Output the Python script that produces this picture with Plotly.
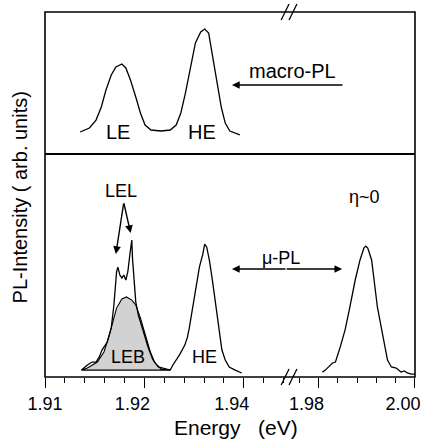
import plotly.graph_objects as go

# ---------------- data ----------------
# macro-PL (top panel), energies in eV, intensity in arb. units
macro_E = [1.9153, 1.9167, 1.9177, 1.9185, 1.9192, 1.9200, 1.9207, 1.9216, 1.9222, 1.9229,
           1.9237, 1.9244, 1.9251, 1.9260, 1.9275, 1.9289, 1.9298, 1.9305, 1.9312, 1.9320,
           1.9327, 1.9335, 1.9341, 1.9347, 1.9352, 1.9360, 1.9366, 1.9372, 1.9379, 1.9394]
macro_I = [0.155, 0.183, 0.239, 0.331, 0.451, 0.556, 0.613, 0.634, 0.606, 0.521,
           0.401, 0.289, 0.204, 0.169, 0.162, 0.169, 0.204, 0.289, 0.430, 0.613,
           0.782, 0.859, 0.880, 0.852, 0.711, 0.500, 0.331, 0.218, 0.162, 0.134]

# micro-PL, low-energy part (LEL lines + LEB + HE)
mu_E = [1.9155, 1.9164, 1.9171, 1.9177, 1.9182, 1.9186, 1.9194, 1.9200, 1.9204, 1.9207,
        1.9208, 1.9210, 1.9213, 1.9216, 1.9219, 1.9222, 1.9225, 1.9228, 1.9231, 1.9232,
        1.9235, 1.9237, 1.9241, 1.9249, 1.9256, 1.9263, 1.9271, 1.9278, 1.9289, 1.9293,
        1.9303, 1.9311, 1.9315, 1.9318, 1.9323, 1.9327, 1.9333, 1.9338, 1.9341, 1.9344,
        1.9348, 1.9352, 1.9357, 1.9363, 1.9367, 1.9372, 1.9378, 1.9387, 1.9397]
mu_I = [0.031, 0.054, 0.067, 0.067, 0.090, 0.121, 0.157, 0.220, 0.323, 0.413,
        0.471, 0.493, 0.457, 0.444, 0.457, 0.435, 0.471, 0.547, 0.614, 0.534,
        0.413, 0.336, 0.277, 0.202, 0.130, 0.076, 0.045, 0.040, 0.031, 0.054,
        0.099, 0.143, 0.179, 0.224, 0.314, 0.404, 0.493, 0.549, 0.596, 0.583,
        0.525, 0.448, 0.332, 0.211, 0.121, 0.076, 0.045, 0.031, 0.018]

# LEB (shaded Gaussian component)
leb_E = [1.9155, 1.9164, 1.9179, 1.9189, 1.9197, 1.9201, 1.9208, 1.9216, 1.9223, 1.9231,
         1.9237, 1.9244, 1.9251, 1.9259, 1.9266, 1.9275, 1.9289]
leb_I = [0.031, 0.040, 0.067, 0.112, 0.188, 0.233, 0.309, 0.350, 0.359, 0.345,
         0.323, 0.265, 0.188, 0.112, 0.063, 0.036, 0.031]

# micro-PL, high-energy peak (right of axis break)
hi_E = [1.9808, 1.9814, 1.9829, 1.9835, 1.9845, 1.9855, 1.9865, 1.9876, 1.9886, 1.9894,
        1.9898, 1.9902, 1.9910, 1.9916, 1.9922, 1.9931, 1.9937, 1.9943, 1.9951, 1.9961,
        1.9971, 1.9978, 1.9984, 1.9992, 2.0000]
hi_I = [0.022, 0.031, 0.063, 0.067, 0.135, 0.211, 0.314, 0.435, 0.525, 0.578,
        0.587, 0.578, 0.525, 0.422, 0.314, 0.211, 0.135, 0.076, 0.045, 0.040,
        0.022, 0.027, 0.018, 0.013, 0.013]

left_ticks = [1.91, 1.925, 1.94]
left_ticktext = ["", "1.92", "1.94"]
right_ticks = [1.98, 2.00]
right_ticktext = ["1.98", "2.00"]

# ---------------- geometry ----------------
W, H = 428, 447
L, R, T, B = 45, 421, 12, 377
PW, PH = R - L, B - T
split_px = 294
div_px = 154
xs = (split_px - L) / PW
yd = (B - div_px) / PH


def px(x):
    return (x - L) / PW


def py(y):
    return (B - y) / PH


FONT = "Liberation Sans, Arial, sans-serif"
fig = go.Figure()

line = dict(color="black", width=1.3)
fig.add_trace(go.Scatter(x=macro_E, y=macro_I, xaxis="x2", yaxis="y2", mode="lines",
                         line=line, hoverinfo="skip"))
fig.add_trace(go.Scatter(x=leb_E + [leb_E[0]], y=leb_I + [leb_I[0]], xaxis="x", yaxis="y",
                         mode="lines", fill="toself", fillcolor="#d2d2d2",
                         line=dict(color="black", width=1.1), hoverinfo="skip"))
fig.add_trace(go.Scatter(x=mu_E, y=mu_I, xaxis="x", yaxis="y", mode="lines",
                         line=line, hoverinfo="skip"))
fig.add_trace(go.Scatter(x=hi_E, y=hi_I, xaxis="x3", yaxis="y", mode="lines",
                         line=line, hoverinfo="skip"))

left_range = [1.91, 1.91 + 0.03 * (split_px - L) / (247 - L)]
right_range = [1.98 - 0.02 * (323 - split_px) / (421 - 323), 2.00]

# empty trace so that the overlaying label axis is drawn
fig.add_trace(go.Scatter(x=left_range, y=[None, None], xaxis="x4", yaxis="y",
                         mode="lines", hoverinfo="skip", showlegend=False))

tickfont = dict(family=FONT, size=18, color="black")
fig.update_layout(
    width=W, height=H, margin=dict(l=L, r=W - R, t=T, b=H - B),
    paper_bgcolor="white", plot_bgcolor="white", showlegend=False,
    xaxis=dict(domain=[0, xs], range=left_range, anchor="y", showgrid=False, zeroline=False,
               showline=False, tickmode="array", tickvals=left_ticks, ticktext=left_ticktext,
               ticks="outside", ticklen=10, tickwidth=1.3, tickcolor="black",
               ticklabelshift=-12, tickfont=tickfont,
               minor=dict(dtick=0.003, tick0=1.91, ticks="outside", ticklen=5,
                          tickwidth=1.2, tickcolor="black", showgrid=False)),
    xaxis4=dict(overlaying="x", range=left_range, anchor="y", showgrid=False, zeroline=False,
                showline=False, tickmode="array", tickvals=[1.91], ticktext=["1.91"],
                ticks="outside", ticklen=10, tickcolor="rgba(0,0,0,0)", tickfont=tickfont),
    xaxis3=dict(domain=[xs, 1], range=right_range, anchor="y", showgrid=False, zeroline=False,
                showline=False, tickmode="array", tickvals=right_ticks, ticktext=right_ticktext,
                ticks="outside", ticklen=10, tickwidth=1.3, tickcolor="black",
                ticklabelshift=-12, tickfont=tickfont,
                minor=dict(dtick=0.004, tick0=1.98, ticks="outside", ticklen=5,
                           tickwidth=1.2, tickcolor="black", showgrid=False)),
    xaxis2=dict(domain=[0, xs], range=left_range, anchor="y2", visible=False),
    yaxis=dict(domain=[0, yd], range=[0, 1], visible=False),
    yaxis2=dict(domain=[yd, 1], range=[0, 1], visible=False),
)

# frame lines
fw = 1.6
shapes = [
    dict(type="rect", xref="paper", yref="paper", x0=0, y0=0, x1=1, y1=1,
         line=dict(color="black", width=fw)),
    dict(type="line", xref="paper", yref="paper", x0=0, y0=yd, x1=1, y1=yd,
         line=dict(color="black", width=2.2)),
]
# axis break marks
for yc in (T + 0.0, B + 0.0):
    for dx in (0, 8):
        shapes.append(dict(type="line", xref="paper", yref="paper",
                           x0=px(285 + dx), y0=py(yc + 8), x1=px(293 + dx), y1=py(yc - 8),
                           line=dict(color="black", width=1.3)))
fig.update_layout(shapes=shapes)

afont = dict(family=FONT, size=20, color="black")
sfont = dict(family=FONT, size=18, color="black")
ann = [
    dict(text="LE", x=px(119), y=py(132), font=afont),
    dict(text="HE", x=px(205), y=py(132), font=afont),
    dict(text="macro-PL", x=px(297), y=py(71), font=afont),
    dict(text="LEL", x=px(122), y=py(191), font=sfont),
    dict(text="η~0", x=px(370), y=py(197), font=sfont),
    dict(text="μ-PL", x=px(285), y=py(258), font=sfont),
    dict(text="LEB", x=px(129), y=py(357), font=sfont),
    dict(text="HE", x=px(207), y=py(357), font=sfont),
    dict(text="PL-Intensity ( arb. units)", x=px(20), y=py(197), textangle=-90,
         font=dict(family=FONT, size=20, color="black")),
    dict(text="Energy   (eV)", x=px(239), y=py(427),
         font=dict(family=FONT, size=21, color="black")),
]
annotations = []
for a in ann:
    d = dict(xref="paper", yref="paper", showarrow=False, xanchor="center", yanchor="middle")
    d.update(a)
    annotations.append(d)

# arrows
arrows = [
    ((347, 85), (235, 85)),     # macro-PL arrow
    ((125, 202), (117, 254)),   # LEL left
    ((125, 202), (132, 233)),   # LEL right
    ((290, 269), (235, 269)),   # mu-PL left
    ((290, 269), (347, 269)),   # mu-PL right
]
for (x0, y0), (x1, y1) in arrows:
    annotations.append(dict(xref="paper", yref="paper", x=px(x1), y=py(y1),
                            axref="pixel", ayref="pixel", ax=x0 - x1, ay=y0 - y1,
                            showarrow=True, arrowhead=2, arrowsize=1.1, arrowwidth=1.4,
                            arrowcolor="black", text="", standoff=0))
fig.update_layout(annotations=annotations)

fig.write_html("out.html")
